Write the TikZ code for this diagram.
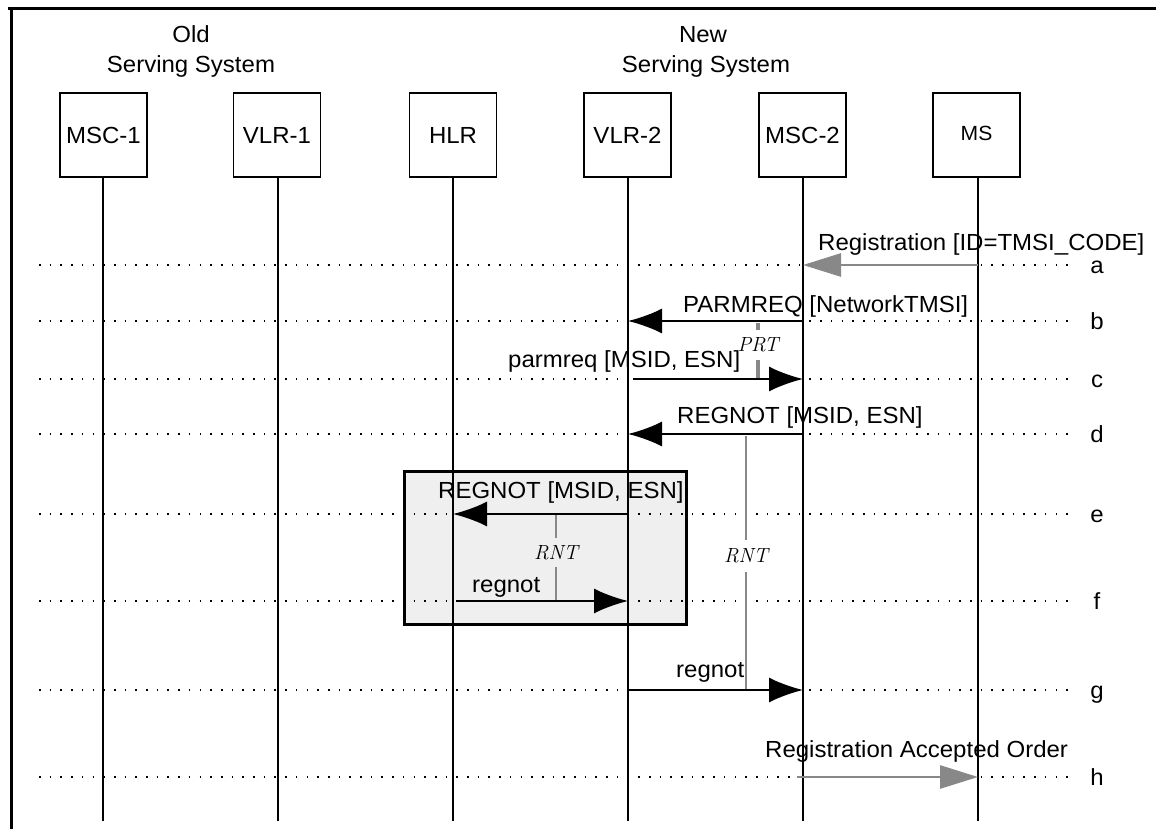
\documentclass[tikz,border=0pt]{standalone}
\usepackage{fontspec}
\setmainfont{Liberation Sans}[FakeStretch=1.03]
\newfontfamily\tfont{Latin Modern Roman}
\usetikzlibrary{arrows.meta}
\definecolor{ggrey}{RGB}{136,136,136}
\definecolor{boxfill}{RGB}{239,239,239}
\begin{document}
\begin{tikzpicture}[x=1pt,y=-1pt,
  head/.style={draw, line width=1.3pt, minimum width=87pt, minimum height=84pt, inner sep=0pt, font=\fontsize{23.3}{27}\selectfont},
  txt/.style={inner sep=0pt, font=\fontsize{23.3}{27}\selectfont},
  life/.style={line width=2pt},
  dots/.style={line width=1.6pt, dash pattern=on 1.6pt off 9.1pt},
  msgb/.style={line width=2pt, -{Latex[length=34pt,width=25pt]}},
  msgg/.style={draw=ggrey, line width=2.7pt, -{Triangle[length=38pt,width=23pt,fill=ggrey]}},
  tlbl/.style={inner sep=0pt, font=\fontsize{20.5}{20.5}\selectfont\tfont\itshape},
  border/.style={line width=3pt}
]
\useasboundingbox (0,0) rectangle (1156,829);
% frame
\coordinate (tl) at (11.5,9);
\coordinate (tr) at (1156,9);
\coordinate (tl0) at (8,9);
\coordinate (bl) at (11.5,829);
\draw[border] (tl0) -- (tr);
\draw[border] (tl) -- (bl);
% grey box
\draw[line width=3pt, fill=boxfill] (404.5,471.5) rectangle (686.5,624.5);
% rows
\foreach \r/\y in {a/265,b/321,c/379,d/434,e/514,f/601,g/690,h/777}{
  \coordinate (L-\r) at (39,\y);
  \coordinate (R-\r) at (1068,\y);
  \draw[dots] (L-\r) -- (R-\r);
  \node[txt, anchor=base] (tag-\r) at (1097,\y+8) {\r};
}
% heads
\node[txt, anchor=base] (old1) at (191,43) {Old};
\node[txt, anchor=base] (old2) at (191,73) {Serving System};
\node[txt, anchor=base] (new1) at (703,43) {New};
\node[txt, anchor=base] (new2) at (706,73) {Serving System};
\node[head] (MSC1) at (103.5,135) {MSC-1};
\node[head] (VLR1) at (277,135) {VLR-1};
\node[head] (HLR) at (453,135) {HLR};
\node[head] (VLR2) at (627.5,135) {VLR-2};
\node[head] (MSC2) at (802.5,135) {MSC-2};
\node[head, font=\fontsize{20.5}{24}\selectfont] (MS) at (976.5,135) {\raisebox{3pt}{MS}};
% lifelines
\foreach \n/\x in {MSC1/103,VLR1/278,HLR/453,VLR2/628,MSC2/803,MS/978}{
  \coordinate (\n-top) at (\x,177);
  \coordinate (\n-end) at (\x,821);
  \draw[life] (\n-top) -- (\n-end);
  \foreach \r/\y in {a/265,b/321,c/379,d/434,e/514,f/601,g/690,h/777}{
    \coordinate (\n-\r) at (\x,\y);
  }
}
% timers
\node[tlbl, minimum height=30pt] (prt) at (758,345) {PRT};
\coordinate (prt-top) at (758,323);
\coordinate (prt-bot) at (758,379);
\draw[ggrey, line width=3.2pt] (prt-top) -- (prt.north);
\draw[ggrey, line width=3.2pt] (prt.south) -- (prt-bot);
\node[tlbl, minimum height=32pt] (rnt1) at (746,556) {RNT};
\coordinate (rnt1-top) at (746,436);
\coordinate (rnt1-bot) at (746,690);
\draw[ggrey, line width=1.7pt] (rnt1-top) -- (rnt1.north);
\draw[ggrey, line width=1.7pt] (rnt1.south) -- (rnt1-bot);
\node[tlbl, minimum height=29pt] (rnt2) at (556,552.5) {RNT};
\coordinate (rnt2-top) at (556,515);
\coordinate (rnt2-bot) at (556,601);
\draw[ggrey, line width=1.7pt] (rnt2-top) -- (rnt2.north);
\draw[ggrey, line width=1.7pt] (rnt2.south) -- (rnt2-bot);
% messages
\draw[msgg] (MS-a) -- (MSC2-a);
\draw[msgb] (MSC2-b) -- (VLR2-b);
\draw[msgb] ([xshift=5pt]VLR2-c) -- (MSC2-c);
\draw[msgb] (MSC2-d) -- (VLR2-d);
\draw[msgb] (VLR2-e) -- (HLR-e);
\draw[msgb] ([xshift=3pt]HLR-f) -- (VLR2-f);
\draw[msgb] (VLR2-g) -- (MSC2-g);
\draw[msgg] ([xshift=-6pt]MSC2-h) -- (MS-h);
% message labels
\node[txt, anchor=base west] (la) at (818,250) {Registration [ID=TMSI\_CODE]};
\node[txt, anchor=base west] (lb) at (683,312) {PARMREQ [NetworkTMSI]};
\node[txt, anchor=base west] (lc) at (508,367) {parmreq [MSID, ESN]};
\node[txt, anchor=base west] (ld) at (677,423) {REGNOT [MSID, ESN]};
\node[txt, anchor=base west] (le) at (438,498) {REGNOT [MSID, ESN]};
\node[txt, anchor=base west] (lf) at (472,592) {regnot};
\node[txt, anchor=base west] (lg) at (676,677) {regnot};
\node[txt, anchor=base west] (lh) at (765,757) {Registration Accepted Order};
\end{tikzpicture}
\end{document}
